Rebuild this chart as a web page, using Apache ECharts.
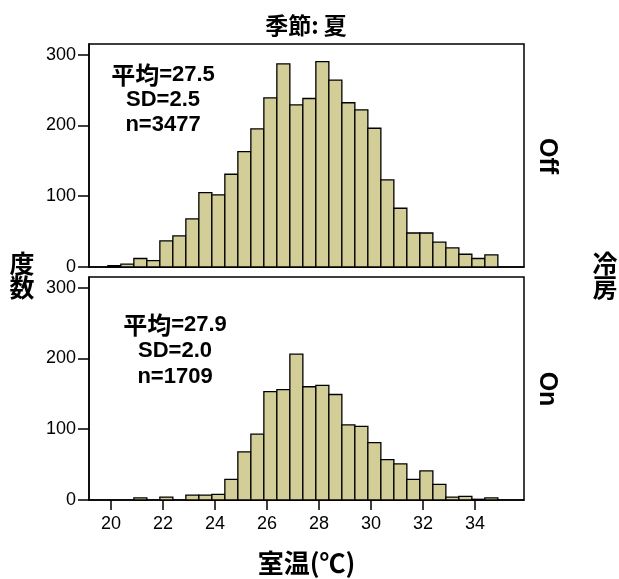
<!DOCTYPE html>
<html>
<head>
<meta charset="utf-8">
<script src="https://cdn.jsdelivr.net/npm/echarts@6/dist/echarts.min.js"></script>
<style>html,body{margin:0;padding:0;background:#fff}#c{width:619px;height:579px}</style>
</head>
<body>
<div id="c"></div>
<script>
// Bin centers (°C), bin width 0.5
const binCenters = [20.125,20.625,21.125,21.625,22.125,22.625,23.125,23.625,24.125,24.625,
  25.125,25.625,26.125,26.625,27.125,27.625,28.125,28.625,29.125,29.625,
  30.125,30.625,31.125,31.625,32.125,32.625,33.125,33.625,34.125,34.625];
const countsOff = [2,4,12,9,37,44,68,105,102,131,163,195,239,287,229,238,290,264,232,222,196,123,83,48,48,35,27,18,12,17];
const countsOn  = [0,0,3,0,4,0,7,7,8,29,68,93,153,156,206,160,162,149,106,104,81,57,51,29,41,22,4,5,1,3];
const xTicks = [20,22,24,26,28,30,32,34];
const yTicks = [0,100,200,300];
const panelLabels = ['Off','On'];
const meanLabel = '平均';
const statsOff = {mean:'27.5', sd:'2.5', n:'3477'};
const statsOn  = {mean:'27.9', sd:'2.0', n:'1709'};
const binWidth = 0.5;

const FONT = '"Liberation Sans", "Noto Sans CJK JP", sans-serif';
const CJK = '"Noto Sans CJK JP", "Liberation Sans", sans-serif';
const chart = echarts.init(document.getElementById('c'));

function toData(counts){ return binCenters.map((c,i)=>[c, counts[i]]); }

function renderBar(params, api){
  const x = api.value(0), y = api.value(1);
  if (!y) return null;
  const p0 = api.coord([x - binWidth/2, 0]);
  const p1 = api.coord([x + binWidth/2, y]);
  return {type:'rect', shape:{x:p0[0], y:p1[1], width:p1[0]-p0[0], height:p0[1]-p1[1]},
    style:{fill:'#D3CE97', stroke:'#000', lineWidth:1.3}};
}

const xBase = (idx, showLabels) => ({
  type:'value', gridIndex:idx, min:19.15, max:35.88,
  axisLine:{show:true, lineStyle:{color:'#000', width:1.5}},
  axisTick:{show:showLabels, length:10, lineStyle:{color:'#000', width:1.5}, customValues:xTicks},
  axisLabel:{show:showLabels, color:'#000', fontSize:18, fontFamily:FONT, margin:15, customValues:xTicks},
  splitLine:{show:false}
});
const yBase = (idx) => ({
  type:'value', gridIndex:idx, min:0, max:315,
  axisLine:{show:true, lineStyle:{color:'#000', width:1.5}},
  axisTick:{show:true, length:11, lineStyle:{color:'#000', width:1.5}, customValues:yTicks},
  axisLabel:{color:'#000', fontSize:18, fontFamily:FONT, margin:13, customValues:yTicks},
  splitLine:{show:false}
});

const xBottom = xBase(1, true);
xBottom.name = '室温(℃)';
xBottom.nameLocation = 'middle';
xBottom.nameGap = 50;
xBottom.nameTextStyle = {color:'#000', fontSize:26, fontWeight:'bold', fontFamily:CJK};

function statText(s, cx, cy, lh){
  return {type:'text', x:cx, y:cy, style:{
    text:'{c|' + meanLabel + '}=' + s.mean + '\nSD=' + s.sd + '\nn=' + s.n,
    fill:'#000', font:'bold 22px ' + FONT, align:'center', verticalAlign:'middle', lineHeight:lh,
    rich:{c:{fontSize:24, fontWeight:'bold', fontFamily:CJK, lineHeight:lh}}
  }};
}

chart.setOption({
  animation:false,
  grid:[
    {left:89, right:95, top:44, height:223, show:true, borderColor:'#000', borderWidth:1.5, backgroundColor:'transparent'},
    {left:89, right:95, top:277, height:223, show:true, borderColor:'#000', borderWidth:1.5, backgroundColor:'transparent'}
  ],
  xAxis:[xBase(0,false), xBottom],
  yAxis:[yBase(0), yBase(1)],
  series:[
    {type:'custom', xAxisIndex:0, yAxisIndex:0, renderItem:renderBar, data:toData(countsOff), encode:{x:0,y:1}},
    {type:'custom', xAxisIndex:1, yAxisIndex:1, renderItem:renderBar, data:toData(countsOn), encode:{x:0,y:1}}
  ],
  graphic:[
    {type:'text', x:306, y:25, style:{text:'季節: 夏', fill:'#000', font:'bold 23px ' + CJK, align:'center', verticalAlign:'middle'}},
    statText(statsOff, 163, 100, 25),
    statText(statsOn, 175, 351, 26),
    {type:'text', x:547, y:156, rotation:-Math.PI/2, style:{text:panelLabels[0], fill:'#000', font:'bold 25px ' + FONT, align:'center', verticalAlign:'middle'}},
    {type:'text', x:547, y:389, rotation:-Math.PI/2, style:{text:panelLabels[1], fill:'#000', font:'bold 25px ' + FONT, align:'center', verticalAlign:'middle'}},
    {type:'text', x:22, y:275, style:{text:'度\n数', fill:'#000', font:'bold 25px ' + CJK, align:'center', verticalAlign:'middle', lineHeight:24}},
    {type:'text', x:605, y:275, style:{text:'冷\n房', fill:'#000', font:'bold 25px ' + CJK, align:'center', verticalAlign:'middle', lineHeight:24}}
  ]
});
</script>
</body>
</html>
